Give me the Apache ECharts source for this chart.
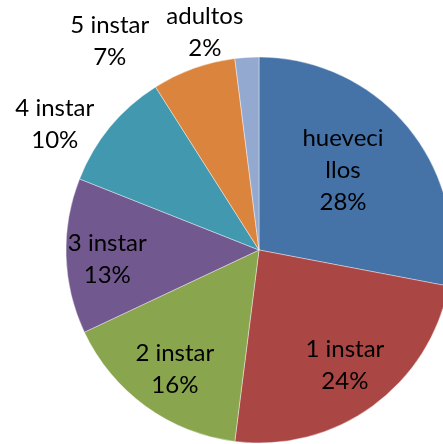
<!DOCTYPE html>
<html>
<head>
<meta charset="utf-8">
<script src="https://cdn.jsdelivr.net/npm/echarts@6/dist/echarts.min.js"></script>
<style>
html,body{margin:0;padding:0;background:#fff;}
#chart{width:443px;height:444px;}
</style>
</head>
<body>
<div id="chart"></div>
<script>
// Data
const categories = ['huevecillos', '1 instar', '2 instar', '3 instar', '4 instar', '5 instar', 'adultos'];
const categoryLabels = ['hueveci\nllos', '1 instar', '2 instar', '3 instar', '4 instar', '5 instar', 'adultos'];
const values = [28, 24, 16, 13, 10, 7, 2];

// Styling
const colors = ['#4572A7', '#AA4643', '#89A54E', '#71588F', '#4198AF', '#DB843D', '#93A9CF'];
const CX = 259, CY = 250, R = 193;
// label placement: radius (px from centre) and angular tweak (deg) per slice
const labelRadius = [116, 144, 146, 152, 240, 257, 224];
const labelAngleTweak = [-4, -0.6, -0.8, -1.6, -7.9, -15.7, -10.4];

const total = values.reduce((a, b) => a + b, 0);
const midAngles = [];
let acc = 0;
values.forEach(v => { midAngles.push((acc + v / 2) / total * 360); acc += v; });

const chart = echarts.init(document.getElementById('chart'), null, {renderer: 'canvas'});
chart.setOption({
  animation: false,
  series: [{
    type: 'pie',
    center: [CX, CY],
    radius: [0, R],
    startAngle: 90,
    clockwise: true,
    avoidLabelOverlap: false,
    data: categories.map((c, i) => ({
      name: c,
      value: values[i],
      itemStyle: {color: colors[i]}
    })),
    itemStyle: {borderColor: 'rgba(255,255,255,0.4)', borderWidth: 1},
    label: {
      show: true,
      position: 'inside',
      color: '#000',
      fontFamily: 'Lato',
      fontSize: 24,
      lineHeight: 32,
      align: 'center',
      formatter: p => categoryLabels[p.dataIndex] + '\n' + Math.round(p.percent) + '%'
    },
    labelLine: {show: false},
    labelLayout: p => {
      const i = p.dataIndex;
      const a = (midAngles[i] + labelAngleTweak[i]) * Math.PI / 180;
      return {
        x: CX + labelRadius[i] * Math.sin(a),
        y: CY - labelRadius[i] * Math.cos(a),
        align: 'center',
        verticalAlign: 'middle'
      };
    },
    emphasis: {disabled: true}
  }]
});
</script>
</body>
</html>
